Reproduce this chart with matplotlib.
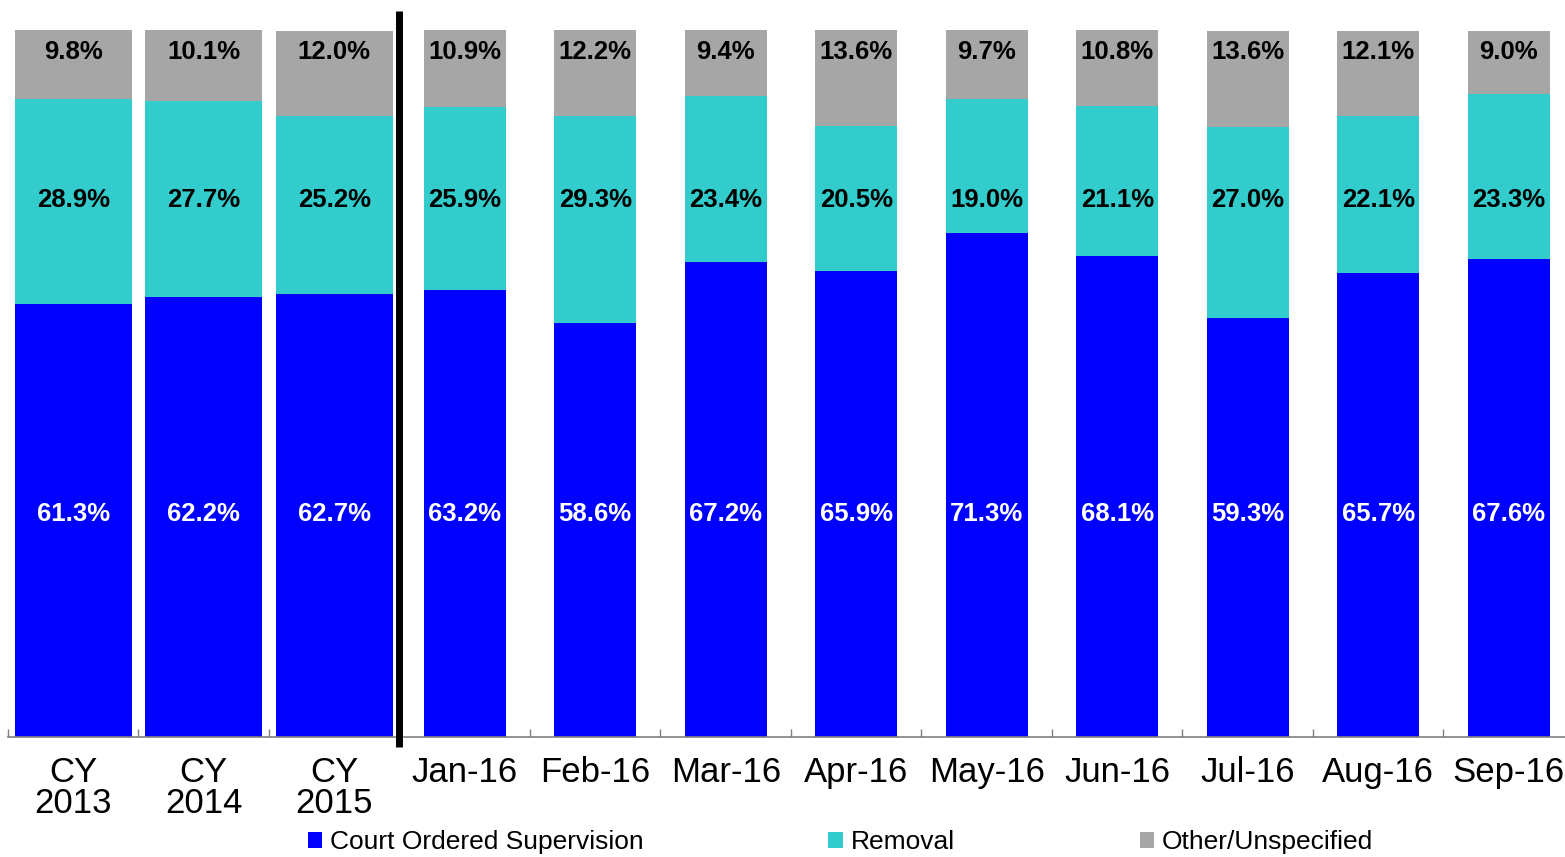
import matplotlib
matplotlib.use("Agg")
import matplotlib.pyplot as plt
from matplotlib.patches import Patch

plt.rcParams['font.family'] = ['Liberation Sans', 'DejaVu Sans']

categories = ["CY\n2013", "CY\n2014", "CY\n2015", "Jan-16", "Feb-16", "Mar-16",
              "Apr-16", "May-16", "Jun-16", "Jul-16", "Aug-16", "Sep-16"]
court = [61.3, 62.2, 62.7, 63.2, 58.6, 67.2, 65.9, 71.3, 68.1, 59.3, 65.7, 67.6]
removal = [28.9, 27.7, 25.2, 25.9, 29.3, 23.4, 20.5, 19.0, 21.1, 27.0, 22.1, 23.3]
other = [9.8, 10.1, 12.0, 10.9, 12.2, 9.4, 13.6, 9.7, 10.8, 13.6, 12.1, 9.0]
series_names = ["Court Ordered Supervision", "Removal", "Other/Unspecified"]

colors = ["#0000FF", "#33CCCC", "#A6A6A6"]
label_colors = ["white", "black", "black"]
label_heights = [31.5, 76.0, 96.9]

W, H = 1565, 857
fig = plt.figure(figsize=(W / 100, H / 100), dpi=100)
ax = fig.add_axes([8 / W, 120 / H, 1566 / W, 707 / H])

x = list(range(len(categories)))
widths = [0.9 if c.startswith("CY") else 0.63 for c in categories]

bottom = [0.0] * len(x)
for vals, col, lc, ly in zip([court, removal, other], colors, label_colors, label_heights):
    ax.bar(x, vals, width=widths, bottom=bottom, color=col, linewidth=0)
    for xi, v in zip(x, vals):
        ax.text(xi, ly, f"{v:.1f}%", ha="center", va="center", color=lc,
                fontsize=18.5, fontweight="bold")
    bottom = [b + v for b, v in zip(bottom, vals)]

ax.set_xlim(-0.5, 11.5)
ax.set_ylim(0, 100)

# separator between calendar years and months
ax.plot([2.5, 2.5], [-1.4, 102.7], color="black", lw=5, clip_on=False,
        solid_capstyle="butt", zorder=5)

for s in ["left", "right", "top"]:
    ax.spines[s].set_visible(False)
ax.spines["bottom"].set_color("#808080")
ax.spines["bottom"].set_linewidth(1.2)
ax.set_yticks([])
ax.set_xticks(x)
ax.set_xticklabels(categories, fontsize=25, linespacing=0.92)
ax.tick_params(axis="x", which="major", length=0, pad=14)
ax.set_xticks([i - 0.5 for i in range(len(x) + 1)], minor=True)
ax.tick_params(axis="x", which="minor", direction="in", length=6, color="#808080", width=1)

handles = [Patch(facecolor=c, edgecolor="none") for c in colors]
fig.legend(handles, series_names, loc="center", bbox_to_anchor=(0.537, 0.017),
           ncol=3, frameon=False, fontsize=19, handlelength=0.55, handleheight=0.55,
           handletextpad=0.3, columnspacing=7.0, borderaxespad=0, borderpad=0)

fig.savefig("out.png", dpi=100)
